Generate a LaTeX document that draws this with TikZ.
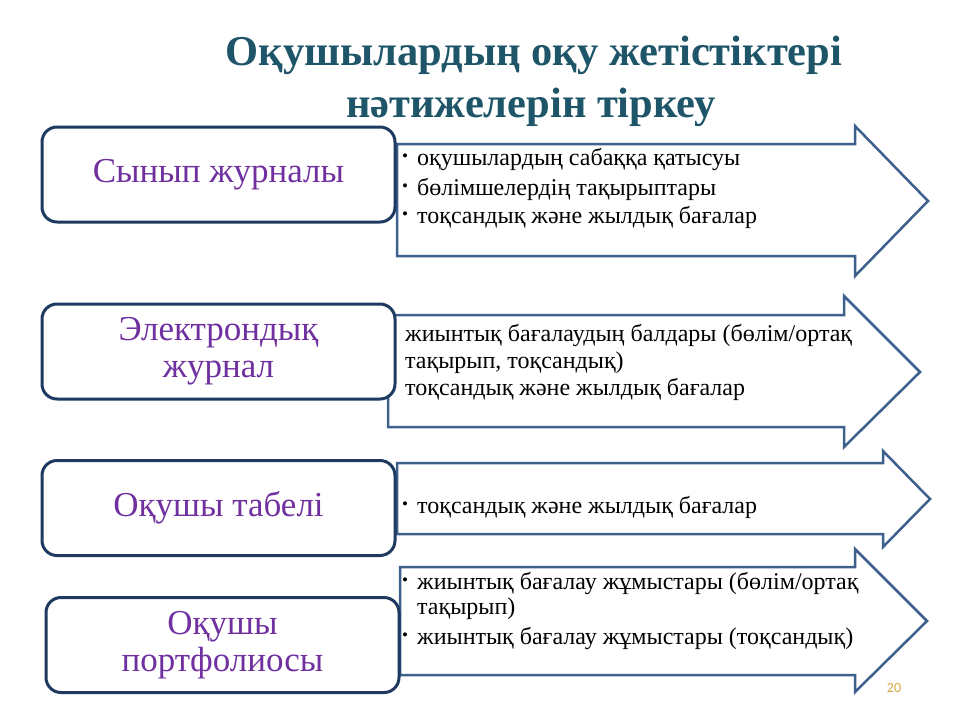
\documentclass[tikz,border=0pt]{standalone}
\usepackage{fontspec}
\setmainfont{Liberation Serif}
\newfontfamily\pagefont{Carlito}

\definecolor{titleteal}{RGB}{30,85,104}
\definecolor{boxnavy}{RGB}{31,58,96}
\definecolor{arrowblue}{RGB}{62,96,140}
\definecolor{labelpurple}{RGB}{112,48,160}
\definecolor{pagegold}{RGB}{212,166,58}

\tikzset{
  journalbox/.style={draw=boxnavy, line width=3pt, rounded corners=15pt, fill=white,
    minimum width=353pt, minimum height=95pt, align=center, text=labelpurple,
    font=\fontsize{35}{37}\selectfont},
  arrowshape/.style={draw=arrowblue, line width=2.5pt, fill=white, line join=miter},
  itemline/.style={anchor=base west, inner sep=0pt, font=\fontsize{24}{28}\selectfont},
  titleline/.style={anchor=base, inner sep=0pt, text=titleteal,
    font=\fontsize{42.5}{46}\selectfont\bfseries},
}
\newcommand{\itembul}{\makebox[15pt][l]{\raisebox{3.5pt}{\fontsize{17}{17}\selectfont•}}}

\begin{document}
\begin{tikzpicture}[x=1pt, y=-1pt]
\useasboundingbox (0,0) rectangle (960,720);
\fill[white] (0,0) rectangle (960,720);

% Title
\node[titleline] (title1) at (534, 65) {Оқушылардың оқу жетістіктері};
\node[titleline] (title2) at (531, 117) {нәтижелерін тіркеу};

% Arrows behind the boxes
\draw[arrowshape] (397,144) -- (855,144) -- (855,126) -- (928,201) -- (855,276) -- (855,256) -- (397,256) -- cycle;
\draw[arrowshape] (388,315) -- (844,315) -- (844,296) -- (920,372) -- (844,447) -- (844,427) -- (388,427) -- cycle;
\draw[arrowshape] (397,463) -- (883,463) -- (883,451) -- (930,499) -- (883,547) -- (883,534) -- (397,534) -- cycle;
\draw[arrowshape] (400,567) -- (855,567) -- (855,549) -- (927,621) -- (855,692) -- (855,675) -- (400,675) -- cycle;

% Boxes
\node[journalbox] (sinip) at (218.5, 174.5) {Сынып журналы};
\node[journalbox] (elektron) at (218.5, 351.5) {Электрондық\\журнал};
\node[journalbox] (tabel) at (218.5, 508) {Оқушы табелі};
\node[journalbox] (portfolio) at (222.5, 645) {Оқушы\\портфолиосы};

% Texts in the arrows
\node[itemline] (sinip1) at (402, 165) {\itembul оқушылардың сабаққа қатысуы};
\node[itemline] (sinip2) at (402, 195) {\itembul бөлімшелердің тақырыптары};
\node[itemline] (sinip3) at (402, 223) {\itembul тоқсандық және жылдық бағалар};

\node[itemline] (elektron1) at (405, 341) {жиынтық бағалаудың балдары (бөлім/ортақ};
\node[itemline] (elektron2) at (405, 368) {тақырып, тоқсандық)};
\node[itemline] (elektron3) at (405, 395) {тоқсандық және жылдық бағалар};

\node[itemline] (tabel1) at (402, 513) {\itembul тоқсандық және жылдық бағалар};

\node[itemline] (portfolio1) at (402, 589) {\itembul жиынтық бағалау жұмыстары (бөлім/ортақ};
\node[itemline] (portfolio2) at (417, 614) {тақырып)};
\node[itemline] (portfolio3) at (402, 644) {\itembul жиынтық бағалау жұмыстары (тоқсандық)};

% Page number
\node[text=pagegold, font=\pagefont\fontsize{14}{16}\selectfont] (pagenum) at (894, 688) {20};
\end{tikzpicture}
\end{document}
